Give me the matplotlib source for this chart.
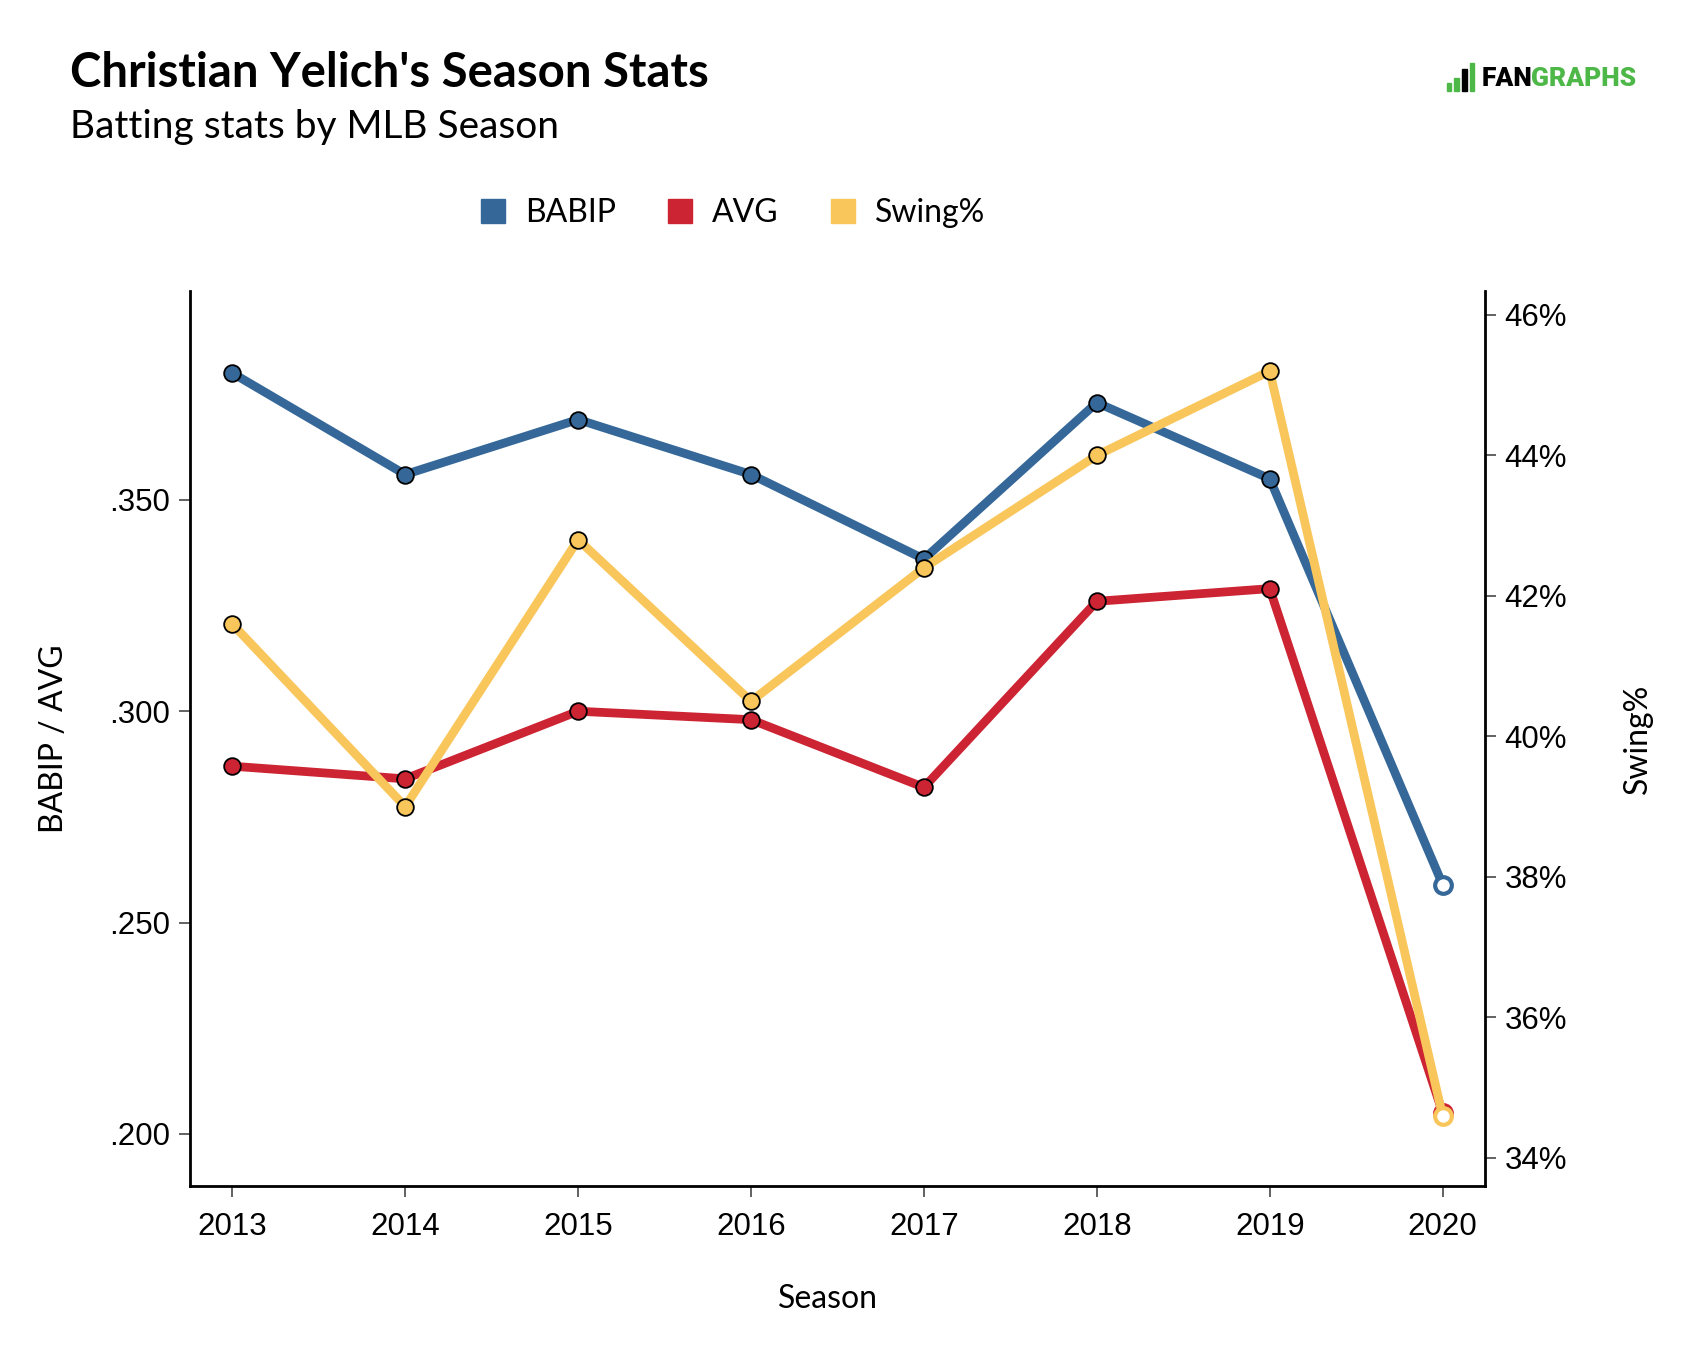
"""
 Christian Yelich season stats - BABIP / AVG with Swing% on a second axis
"""

# Libraries
import matplotlib
matplotlib.use("Agg")
import matplotlib.pyplot as plt
from matplotlib.lines import Line2D
from matplotlib.ticker import FuncFormatter

# Data
SEASONS = [2013, 2014, 2015, 2016, 2017, 2018, 2019, 2020]
BABIP   = [0.380, 0.356, 0.369, 0.356, 0.336, 0.373, 0.355, 0.259]
AVG     = [0.287, 0.284, 0.300, 0.298, 0.282, 0.326, 0.329, 0.205]
SWING   = [41.6, 39.0, 42.8, 40.5, 42.4, 44.0, 45.2, 34.6]
LEFT_TICKS  = [0.200, 0.250, 0.300, 0.350]
RIGHT_TICKS = [34, 36, 38, 40, 42, 44, 46]

# Constants
BLUE   = "#356899"
RED    = "#cd2433"
YELLOW = "#f9c65b"
GREEN  = "#4db848"
FONT   = ["Lato", "DejaVu Sans"]
TICK_FONT = ["Liberation Sans", "DejaVu Sans"]

plt.rcParams["font.family"] = FONT

def draw_series(ax, x, y, colour):
    """Line with black-edged dots; the last season gets a hollow marker"""
    ax.plot(x, y, color=colour, linewidth=6.3, solid_capstyle="round", zorder=2)
    ax.plot(x[:-1], y[:-1], linestyle="none", marker="o", markersize=12,
            markerfacecolor=colour, markeredgecolor="black", markeredgewidth=1.3, zorder=3)
    ax.plot(x[-1:], y[-1:], linestyle="none", marker="o", markersize=12,
            markerfacecolor="white", markeredgecolor=colour, markeredgewidth=3, zorder=3)

fig = plt.figure(figsize=(17.02, 13.48), dpi=100)
ax = fig.add_axes([0.1116, 0.1202, 0.7609, 0.6639])
ax2 = ax.twinx()

draw_series(ax, SEASONS, BABIP, BLUE)
draw_series(ax, SEASONS, AVG, RED)
draw_series(ax2, SEASONS, SWING, YELLOW)

ax.set_xlim(2012.755, 2020.245)
ax.set_ylim(0.1877, 0.3994)
ax2.set_ylim(33.60, 46.34)

ax.set_xticks(SEASONS)
ax.set_yticks(LEFT_TICKS)
ax.yaxis.set_major_formatter(FuncFormatter(lambda v, p: f"{v:.3f}".lstrip("0")))
ax2.set_yticks(RIGHT_TICKS)
ax2.yaxis.set_major_formatter(FuncFormatter(lambda v, p: f"{v:.0f}%"))

for a in (ax, ax2):
    a.spines["top"].set_visible(False)
    for side in ("left", "right", "bottom"):
        a.spines[side].set_linewidth(2)
        a.spines[side].set_color("black")
    a.tick_params(axis="both", labelsize=22.5, length=8, width=1.3, color="#555555", pad=6)
    for lab in a.get_xticklabels() + a.get_yticklabels():
        lab.set_family(TICK_FONT)
ax.tick_params(axis="x", pad=11)
ax.spines["right"].set_visible(False)
ax2.spines["left"].set_visible(False)
ax2.spines["bottom"].set_visible(False)

ax.set_xlabel("Season", fontsize=23, labelpad=30)
ax.xaxis.label.set_x(0.4925)
ax.set_ylabel("BABIP / AVG", fontsize=23, labelpad=29)
ax2.set_ylabel("Swing%", fontsize=23, labelpad=40)

# Legend
handles = [Line2D([], [], linestyle="none", marker="s", markersize=17, color=c)
           for c in (BLUE, RED, YELLOW)]
fig.legend(handles, ["BABIP", "AVG", "Swing%"], loc="center", bbox_to_anchor=(0.4305, 0.8420),
           ncol=3, frameon=False, fontsize=23, handlelength=0.8, handletextpad=0.6,
           columnspacing=1.6)

# Titles
fig.text(0.0414, 0.9460, "Christian Yelich's Season Stats", fontsize=34, fontweight="bold",
         va="center", ha="left")
fig.text(0.0414, 0.9055, "Batting stats by MLB Season", fontsize=28, va="center", ha="left")

# FanGraphs logo
fig.text(0.8705, 0.9415, "FAN", fontsize=19, fontweight="heavy", color="black",
         va="center", ha="left", family=["Roboto", "DejaVu Sans"])
fig.text(0.8995, 0.9415, "GRAPHS", fontsize=19, fontweight="heavy", color=GREEN,
         va="center", ha="left", family=["Roboto", "DejaVu Sans"])
for i, h in enumerate([0.006, 0.010, 0.016, 0.021]):
    fig.patches.append(plt.Rectangle((0.8500 + i * 0.0045, 0.9325), 0.0028, h,
                                     transform=fig.transFigure, color=GREEN if i != 2 else "black"))

fig.savefig("out.png", dpi=100)
